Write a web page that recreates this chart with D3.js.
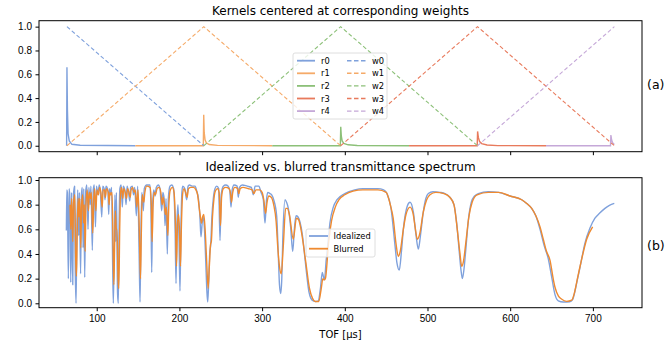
<!DOCTYPE html>
<html>
<head>
<meta charset="utf-8">
<script src="https://cdn.jsdelivr.net/npm/d3@7"></script>
<style>
  body { margin: 0; background: #fff; }
  svg { font-family: "DejaVu Sans", sans-serif; }
  .tick text { font-size: 10px; fill: #000; }
  .tick line, .domain { stroke: #000; }
</style>
</head>
<body>
<svg width="668" height="347"></svg>
<script>
// ---- data ----
const nodes = [64, 229.5, 395, 560.5, 726];
const weightSeries = ['w0', 'w1', 'w2', 'w3', 'w4'];
const kernelSeries = ['r0', 'r1', 'r2', 'r3', 'r4'];
const xTicks = [100, 200, 300, 400, 500, 600, 700];
const yTicks = [0, 0.2, 0.4, 0.6, 0.8, 1.0];

// hat weights: [tof, weight]
const w0 = [[64, 1], [229.5, 0]];
const w1 = [[64, 0], [229.5, 1], [395, 0]];
const w2 = [[229.5, 0], [395, 1], [560.5, 0]];
const w3 = [[395, 0], [560.5, 1], [726, 0]];
const w4 = [[560.5, 0], [726, 1]];

// kernels on their segments: [tof, value]
const r0 = [[63.6, 0], [64.0, 0.66], [64.6, 0.3], [65.4, 0.1], [66.8, 0.04], [70, 0.012], [80, 0.004], [146.7, 0]];
const r1 = [[146.7, 0], [228.9, 0], [229.4, 0.26], [230.0, 0.11], [231.0, 0.05], [232.5, 0.025], [236, 0.01], [246, 0.003], [312.3, 0]];
const r2 = [[312.3, 0], [394.6, 0], [395.1, 0.16], [395.8, 0.08], [396.8, 0.04], [398.8, 0.02], [404, 0.008], [415, 0.002], [477.7, 0]];
const r3 = [[477.7, 0], [560.1, 0], [560.6, 0.12], [561.5, 0.07], [563, 0.035], [565.5, 0.018], [572, 0.006], [585, 0.001], [643.3, 0]];
const r4 = [[643.3, 0], [721.3, 0], [721.8, 0.09], [722.6, 0.05], [723.8, 0.025], [725.9, 0.01]];

// transmittance: [tof, T]
const idealized = [
  [63.3, .59], [63.8, .92], [64.5, .9], [65.7, .2], [66.6, .93], [67.6, .85], [68.6, .17], [69.6, .9], [71.0, .15], [71.9, .88],
  [73.2, .95], [74.0, .3], [75.0, .0], [76.0, .6], [77.0, .92], [78.2, .55], [79.0, .9], [80.5, .24], [81.5, .88], [82.5, .94],
  [83.5, .45], [84.3, .93], [85.5, .21], [86.6, .9], [88, .96], [89.5, .6], [90.5, .94], [92, .8], [93, .95], [94.7, .43],
  [95.8, .92], [97, .96], [98.5, .62], [99.7, .95], [101.5, .88], [103, .96], [104.5, .9], [106.1, .7], [107.3, .95], [109, .93],
  [110, .84], [111.2, .95], [113.5, .92], [114.5, .72], [115.5, .93], [116.6, .88], [118, .94], [119.3, .3], [120.1, .0], [121, .4],
  [122, .88], [123, .5], [123.8, .9], [125.2, .08], [126.1, .0], [127, .6], [128, .93], [129.5, .96], [131, .78], [132, .95],
  [134, .92], [135.5, .8], [136.7, .95], [138.5, .9], [140, .83], [141, .94], [143, .95], [144.5, .88], [146, .94], [147.9, .71],
  [149.5, .95], [151.3, .4], [152.4, .01], [153.3, .5], [154.5, .9], [156.4, .75], [157.5, .93], [160.4, .96], [164.4, .96], [165.5, .8],
  [166.5, .25], [167.6, .8], [169, .92], [170.5, .87], [172, .94], [174.5, .96], [176.5, .93], [178.6, .75], [180, .9], [181.5, .85],
  [182.6, .63], [183.8, .85], [185.4, .4], [186.6, .85], [188.6, .95], [190.7, .96], [193, .93], [194.8, .6], [195.9, .16], [197, .65],
  [198.3, .8], [199.6, .5], [200.7, .1], [201.8, .6], [203, .9], [204, .95], [206.5, .93], [208.8, .84], [210.5, .95], [212, .96],
  [216, .95], [218.9, .95], [221, .91], [223, .85], [224.8, .7], [226.1, .54], [227.5, .65], [228.9, .7], [230.3, .6], [231.8, .35],
  [233.2, .1], [234.2, .01], [235.3, .15], [236.6, .4], [237.9, .48], [239.3, .7], [241, .85], [243, .93], [245.1, .95], [247.5, .93],
  [249.1, .51], [250.5, .88], [253.1, .95], [256, .96], [259, .95], [261, .91], [262.4, .78], [263.8, .92], [266, .96], [269.8, .95],
  [271.2, .86], [272.6, .94], [276, .96], [282, .95], [287, .94], [289.4, .88], [291.5, .95], [296, .95], [298.7, .9], [301.5, .84],
  [303.5, .65], [305.3, .84], [306.8, .9], [309.5, .89], [311.6, .88], [314, .84], [317.6, .71], [319.6, .39], [321, .15], [322.5, .08],
  [323.8, .2], [325, .52], [327.7, .84], [329.5, .82], [331.7, .77], [334.5, .62], [337, .42], [339, .6], [341, .71], [343.5, .7],
  [345.8, .66], [348.8, .55], [351.9, .36], [354.5, .2], [356.7, .09], [359, .04], [361.9, .02], [365, .015], [368, .02], [370.5, .12],
  [372.8, .25], [374, .22], [375.3, .19], [377.5, .35], [380.1, .52], [382, .65], [386.1, .78], [390.6, .84], [400, .89], [412, .92],
  [422, .93], [440, .93], [447, .92], [451, .89], [455.9, .77], [460.7, .47], [463, .33], [465.9, .27], [468.5, .42], [470.8, .6],
  [475.6, .79], [478.9, .82], [482.9, .74], [486, .56], [488.9, .44], [491.5, .55], [494.9, .74], [498, .85], [501, .89], [506.6, .905],
  [515, .9], [521.2, .89], [527, .86], [532, .8], [535.3, .65], [538, .45], [540.5, .27], [542.2, .2], [544, .27], [546.5, .45],
  [549.5, .68], [553, .82], [557, .87], [561.4, .89], [573.6, .905], [586, .9], [599.8, .87], [613.9, .84], [620, .81], [626, .77],
  [631, .71], [636.1, .6], [641, .47], [646.1, .36], [650, .22], [654.2, .07], [658.2, .02], [664, .01], [672, .012], [675.5, .03],
  [678.4, .1], [681.5, .2], [684.4, .29], [690.5, .49], [696.5, .61], [702.5, .69], [708, .73], [714.6, .77], [720, .795], [725.9, .81]
];
const blurred = [
  [67.7, .8], [68.6, .6], [69.6, .85], [71.0, .5], [72, .82], [73.5, .88], [74.5, .38], [75.5, .22], [76.5, .6], [77.5, .85],
  [78.5, .7], [79.5, .85], [80.7, .45], [81.7, .8], [83, .88], [84, .65], [85, .8], [86, .42], [87, .8], [88.5, .92],
  [90, .75], [91, .9], [92.5, .85], [93.5, .9], [95.2, .57], [96.5, .86], [97.5, .93], [99, .75], [100.3, .92], [102, .88],
  [103.5, .94], [105, .9], [106.6, .78], [107.8, .92], [109.5, .92], [110.5, .86], [111.8, .93], [114, .9], [115, .8], [116, .9],
  [117.2, .88], [118.5, .9], [119.8, .45], [120.7, .15], [121.6, .45], [122.6, .75], [123.6, .6], [124.5, .6], [125.8, .2], [126.7, .12],
  [127.8, .6], [128.8, .9], [130, .94], [131.5, .85], [132.6, .93], [134.5, .9], [136, .85], [137.3, .93], [139, .9], [140.5, .86],
  [141.6, .92], [143.5, .94], [145, .9], [146.6, .92], [148.4, .78], [150, .92], [151.8, .5], [152.9, .2], [153.9, .55], [155, .88],
  [157, .82], [158.2, .9], [160.5, .95], [164.5, .94], [166, .8], [167, .5], [168.2, .8], [169.5, .9], [171, .88], [173, .93],
  [175.5, .94], [177.5, .9], [179.2, .8], [180.6, .86], [183.1, .72], [184.3, .78], [186, .55], [187.2, .8], [189, .92], [191.5, .94],
  [193.5, .9], [195.2, .65], [196.5, .3], [197.7, .65], [199, .72], [200.3, .55], [201.3, .3], [202.5, .65], [203.8, .88], [205.5, .93],
  [207.5, .9], [209.3, .86], [211, .93], [214, .94], [217, .94], [220, .92], [222, .88], [223.5, .8], [225, .72], [226.6, .65],
  [228, .7], [229.5, .72], [231.5, .55], [233.2, .3], [234.7, .12], [236.2, .3], [237.7, .48], [238.6, .5], [240, .7], [241.8, .85],
  [243.5, .91], [246, .93], [248, .9], [249.7, .63], [251, .86], [253, .93], [256, .94], [260, .93], [262, .88], [263, .82],
  [264.5, .9], [267, .94], [270.5, .93], [271.8, .89], [273.5, .93], [277, .94], [283, .93], [288, .92], [290, .89], [292.5, .92],
  [297, .92], [300, .9], [302, .84], [304.2, .73], [306, .82], [308, .87], [311, .86], [314, .8], [317, .66], [319, .45],
  [321, .3], [323.2, .24], [325.5, .45], [328.5, .77], [330.5, .77], [333, .72], [337.7, .52], [341.5, .69], [344, .68], [347, .6],
  [352.5, .35], [357.3, .12], [361, .04], [364, .015], [368.5, .015], [371.5, .12], [373.5, .2], [375, .19], [376.5, .2], [380.5, .5],
  [384, .67], [388.5, .78], [393, .84], [400, .88], [410, .91], [422, .92], [440, .92], [450, .9], [455, .8], [458.5, .69],
  [462, .48], [464.7, .38], [467, .42], [470.8, .6], [474, .72], [478.9, .78], [482.5, .73], [485, .62], [487.7, .52], [490.5, .56],
  [494.9, .74], [499, .84], [503, .88], [510, .9], [520, .89], [527, .86], [532, .8], [536, .6], [539, .42], [541.4, .3],
  [543.5, .34], [546.5, .5], [550, .7], [554, .82], [560, .88], [573.6, .9], [586, .9], [599.8, .87], [613.9, .84], [620, .81],
  [626, .77], [631, .71], [636.1, .62], [640, .52], [644, .42], [648.1, .35], [652, .2], [654.2, .13], [658.2, .06], [662, .035],
  [668.3, .016], [674.4, .025], [677.5, .08], [680.4, .17], [683.5, .27], [686.5, .36], [692.5, .52], [699.7, .62]
];

// ---- layout ----
const colors = ['#7fa1dc', '#f5aa68', '#8cc078', '#e87a5c', '#c5a8d8'];
const blueLine = '#7fa1dc', orangeLine = '#ef8a30';
const left = 39, right = 642;
const topA = { y0: 20.7, y1: 151.7 };
const topB = { y0: 177.7, y1: 307.7 };

const svg = d3.select('svg');
const x = d3.scaleLinear().domain([30.2, 759.4]).range([left, right]);
const yA = d3.scaleLinear().domain([-0.05, 1.05]).range([topA.y1, topA.y0]);
const yB = d3.scaleLinear().domain([0, 1]).range([303.3, 180]);

const line = (ys, curve = d3.curveLinear) =>
  d3.line().curve(curve).x(d => x(d[0])).y(d => ys(d[1]));

function axes(yScale, box, showLabels) {
  const g = svg.append('g');
  g.append('g')
    .attr('transform', `translate(0,${box.y1})`)
    .call(d3.axisBottom(x).tickValues(xTicks).tickSize(3.5).tickPadding(3.5)
      .tickFormat(showLabels ? d3.format('d') : ''))
    .call(s => s.select('.domain').remove());
  g.append('g')
    .attr('transform', `translate(${left},0)`)
    .call(d3.axisLeft(yScale).tickValues(yTicks).tickSize(3.5).tickPadding(3.5).tickFormat(d3.format('.1f')))
    .call(s => s.select('.domain').remove());
  return g;
}

function frame(box) {
  svg.append('rect')
    .attr('x', left).attr('y', box.y0)
    .attr('width', right - left).attr('height', box.y1 - box.y0)
    .attr('fill', 'none').attr('stroke', '#000').attr('stroke-width', 1);
}

// ---- panel (a) ----
svg.append('defs').append('clipPath').attr('id', 'clipA')
  .append('rect').attr('x', left).attr('y', topA.y0).attr('width', right - left).attr('height', topA.y1 - topA.y0);
const gA = svg.append('g').attr('clip-path', 'url(#clipA)');
[r0, r1, r2, r3, r4].forEach((d, i) => {
  gA.append('path').datum(d).attr('d', line(yA))
    .attr('fill', 'none').attr('stroke', colors[i]).attr('stroke-width', 1.4);
});
[w0, w1, w2, w3, w4].forEach((d, i) => {
  gA.append('path').datum(d).attr('d', line(yA))
    .attr('fill', 'none').attr('stroke', colors[i]).attr('stroke-width', 1.1)
    .attr('stroke-dasharray', '4,2.4');
});
axes(yA, topA, false);
frame(topA);

// legend (a)
const legA = svg.append('g');
legA.append('rect').attr('x', 293).attr('y', 53).attr('width', 94).attr('height', 66)
  .attr('rx', 2).attr('fill', '#fff').attr('fill-opacity', 0.8).attr('stroke', '#d5d5d5').attr('stroke-width', 0.8);
kernelSeries.forEach((name, i) => {
  const yy = 60.7 + i * 12.6;
  legA.append('line').attr('x1', 297).attr('x2', 315).attr('y1', yy).attr('y2', yy)
    .attr('stroke', colors[i]).attr('stroke-width', 1.8);
  legA.append('text').attr('x', 321).attr('y', yy + 3).attr('font-size', 8.3).text(name);
});
weightSeries.forEach((name, i) => {
  const yy = 60.7 + i * 12.6;
  legA.append('line').attr('x1', 347).attr('x2', 366).attr('y1', yy).attr('y2', yy)
    .attr('stroke', colors[i]).attr('stroke-width', 1.4).attr('stroke-dasharray', '4.5,2.5');
  legA.append('text').attr('x', 372).attr('y', yy + 3).attr('font-size', 8.3).text(name);
});

// ---- panel (b) ----
svg.append('defs').append('clipPath').attr('id', 'clipB')
  .append('rect').attr('x', left).attr('y', topB.y0).attr('width', right - left).attr('height', topB.y1 - topB.y0);
const gB = svg.append('g').attr('clip-path', 'url(#clipB)');
gB.append('path').datum(idealized).attr('d', line(yB, d3.curveMonotoneX))
  .attr('fill', 'none').attr('stroke', blueLine).attr('stroke-width', 1.4).attr('stroke-linejoin', 'round');
gB.append('path').datum(blurred).attr('d', line(yB, d3.curveMonotoneX))
  .attr('fill', 'none').attr('stroke', orangeLine).attr('stroke-width', 1.4).attr('stroke-linejoin', 'round');
axes(yB, topB, true);
frame(topB);

const legB = svg.append('g');
legB.append('rect').attr('x', 306).attr('y', 229).attr('width', 69).attr('height', 28)
  .attr('rx', 2).attr('fill', '#fff').attr('fill-opacity', 0.8).attr('stroke', '#d5d5d5').attr('stroke-width', 0.8);
[['Idealized', blueLine], ['Blurred', orangeLine]].forEach(([name, c], i) => {
  const yy = 236 + i * 12.7;
  legB.append('line').attr('x1', 309).attr('x2', 328).attr('y1', yy).attr('y2', yy)
    .attr('stroke', c).attr('stroke-width', 1.8);
  legB.append('text').attr('x', 333.5).attr('y', yy + 3).attr('font-size', 8.3).text(name);
});

// ---- titles / labels ----
svg.append('text').attr('x', 340.5).attr('y', 14.5).attr('text-anchor', 'middle')
  .attr('font-size', 12).text('Kernels centered at corresponding weights');
svg.append('text').attr('x', 340.5).attr('y', 171.3).attr('text-anchor', 'middle')
  .attr('font-size', 12).text('Idealized vs. blurred transmittance spectrum');
svg.append('text').attr('x', 340.5).attr('y', 338).attr('text-anchor', 'middle')
  .attr('font-size', 10).text('TOF [μs]');
svg.append('text').attr('x', 647).attr('y', 88.5).attr('font-size', 12.5).text('(a)');
svg.append('text').attr('x', 647).attr('y', 249.5).attr('font-size', 12.5).text('(b)');
</script>
</body>
</html>
